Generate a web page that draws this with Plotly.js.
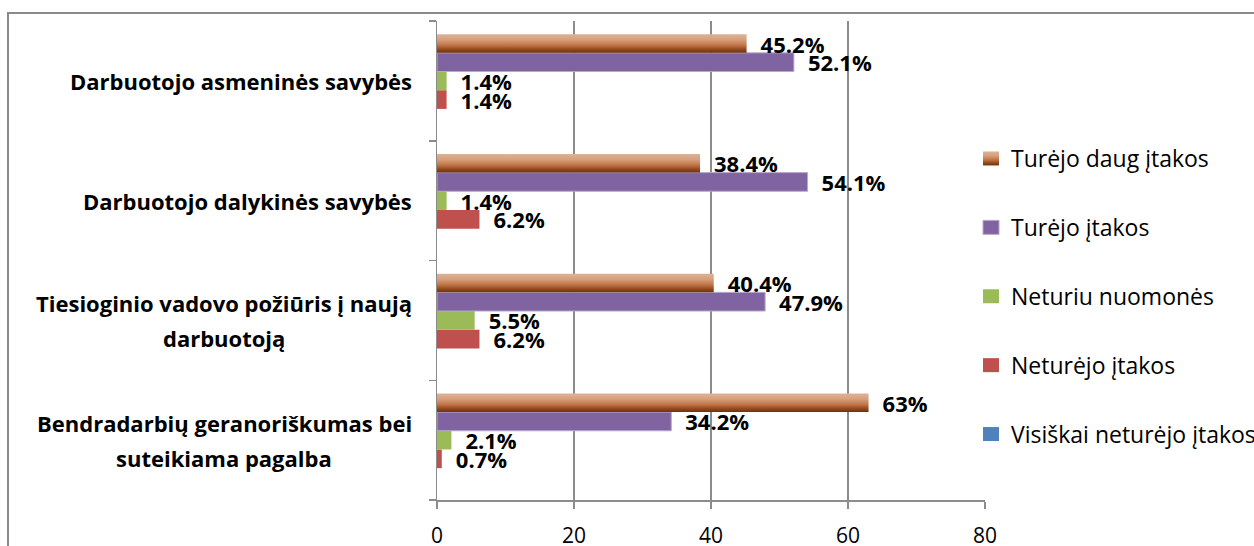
<!DOCTYPE html>
<html>
<head>
<meta charset="utf-8">
<script src="https://cdn.plot.ly/plotly-3.0.1.min.js"></script>
<style>
  html, body { margin: 0; padding: 0; background: #fff; overflow: hidden; }
  #wrap { position: relative; width: 1254px; height: 546px; overflow: hidden; }
  #chart { position: absolute; left: 0; top: 0; width: 1254px; height: 546px; }
  #frame { position: absolute; left: 7px; top: 12px; width: 1400px; height: 700px;
           border-left: 2px solid #8a8a8a; border-top: 2px solid #8a8a8a; pointer-events: none; }
</style>
</head>
<body>
<div id="wrap">
  <div id="chart"></div>
  <div id="frame"></div>
</div>
<script>
// Categories, listed bottom to top as they appear on the axis
const categories = [
  'Bendradarbių geranoriškumas bei suteikiama pagalba',
  'Tiesioginio vadovo požiūris į naują darbuotoją',
  'Darbuotojo dalykinės savybės',
  'Darbuotojo asmeninės savybės'
];
// Wrapped versions of the category names, one entry per line
const categoryLines = [
  ['Bendradarbių geranoriškumas bei', 'suteikiama pagalba'],
  ['Tiesioginio vadovo požiūris į naują', 'darbuotoją'],
  ['Darbuotojo dalykinės savybės'],
  ['Darbuotojo asmeninės savybės']
];

// Answer shares, % (same category order)
const visiskaiNeturejo = [0, 0, 0, 0];
const neturejo = [0.7, 6.2, 6.2, 1.4];
const neturiuNuomones = [2.1, 5.5, 1.4, 1.4];
const turejo = [34.2, 47.9, 54.1, 52.1];
const turejoDaug = [63, 40.4, 38.4, 45.2];

const seriesNames = [
  'Visiškai neturėjo įtakos',
  'Neturėjo įtakos',
  'Neturiu nuomonės',
  'Turėjo įtakos',
  'Turėjo daug įtakos'
];
const seriesValues = [visiskaiNeturejo, neturejo, neturiuNuomones, turejo, turejoDaug];
const seriesColors = ['#4f81bd', '#c0504d', '#9bbb59', '#8064a2', '#b86a3c'];

const xTicks = [0, 20, 40, 60, 80];

const FAMILY = '"Open Sans", "DejaVu Sans", sans-serif';
const valueFont = { family: FAMILY, size: 22, color: '#000', weight: 700 };
const catFont = { family: FAMILY, size: 22, color: '#000', weight: 700 };
const axisGrey = '#8c8c8c';

const traces = seriesValues.map((vals, i) => {
  const hasLabels = vals.some(v => v !== 0);
  return {
    type: 'bar',
    orientation: 'h',
    name: seriesNames[i],
    legendgroup: 'g' + i,
    legendrank: 100 - i,
    x: vals,
    y: categories,
    marker: {
      color: seriesColors[i],
      line: { width: i === 3 ? 1 : 0, color: '#b7a8cc' }
    },
    texttemplate: hasLabels ? '\u2002%{x}%' : '',
    textposition: hasLabels ? 'outside' : 'none',
    textfont: valueFont,
    constraintext: 'none',
    cliponaxis: false,
    hoverinfo: 'skip'
  };
});

// Category names: each block right-aligned next to the axis, its lines centred in the block
const measureCtx = document.createElement('canvas').getContext('2d');
measureCtx.font = '700 22px "Open Sans"';
const LINE_GAP = 35;
const annotations = [];
categoryLines.forEach((lines, i) => {
  const widths = lines.map(l => measureCtx.measureText(l).width);
  const blockW = Math.max(...widths);
  lines.forEach((line, k) => {
    annotations.push({
      xref: 'paper', yref: 'y',
      x: 0, y: categories[i],
      xanchor: 'right', yanchor: 'middle',
      xshift: -23 - (blockW - widths[k]) / 2,
      yshift: ((lines.length - 1) / 2 - k) * LINE_GAP,
      text: line,
      showarrow: false,
      font: catFont
    });
  });
});

const layout = {
  width: 1254,
  height: 546,
  margin: { l: 437, r: 269, t: 21, b: 46, autoexpand: false },
  paper_bgcolor: 'rgba(0,0,0,0)',
  plot_bgcolor: 'rgba(0,0,0,0)',
  barmode: 'group',
  bargap: 0.22,
  bargroupgap: 0,
  font: { family: FAMILY, color: '#000' },
  xaxis: {
    range: [0, 80],
    tickvals: xTicks,
    ticktext: xTicks.map(String),
    showgrid: true,
    gridcolor: axisGrey,
    gridwidth: 1.5,
    zeroline: false,
    showline: true,
    linecolor: axisGrey,
    linewidth: 1.5,
    ticks: 'outside',
    ticklen: 7,
    tickwidth: 1.5,
    tickcolor: axisGrey,
    ticklabelstandoff: 9,
    tickfont: { family: FAMILY, size: 21, color: '#000' },
    fixedrange: true
  },
  yaxis: {
    type: 'category',
    categoryorder: 'array',
    categoryarray: categories,
    range: [-0.5, 3.5],
    showgrid: false,
    zeroline: false,
    showline: true,
    linecolor: axisGrey,
    linewidth: 1.5,
    ticks: 'outside',
    tickson: 'boundaries',
    ticklen: 7,
    tickwidth: 1.5,
    tickcolor: axisGrey,
    showticklabels: false,
    fixedrange: true
  },
  legend: {
    traceorder: 'grouped',
    tracegroupgap: 36,
    xref: 'container', yref: 'container',
    x: 971 / 1254, xanchor: 'left',
    y: 1 - 137 / 546, yanchor: 'top',
    maxheight: 420,
    bgcolor: 'rgba(0,0,0,0)',
    borderwidth: 0,
    font: { family: FAMILY, size: 23, color: '#000' },
    itemclick: false,
    itemdoubleclick: false
  },
  annotations: annotations,
  showlegend: true
};

const gd = document.getElementById('chart');
Plotly.newPlot(gd, traces, layout, { displayModeBar: false, staticPlot: true }).then(() => {
  // Shaded fill for the "Turėjo daug įtakos" bars and legend swatch
  const svgNS = 'http://www.w3.org/2000/svg';
  const defs = gd.querySelector('svg.main-svg defs');
  const grad = document.createElementNS(svgNS, 'linearGradient');
  grad.setAttribute('id', 'brownShade');
  grad.setAttribute('x1', '0'); grad.setAttribute('y1', '0');
  grad.setAttribute('x2', '0'); grad.setAttribute('y2', '1');
  [[0, '#deb397'], [0.3, '#d79f7b'], [0.6, '#c07446'], [0.82, '#94491c'], [1, '#6e300e']].forEach(([o, c]) => {
    const s = document.createElementNS(svgNS, 'stop');
    s.setAttribute('offset', o);
    s.setAttribute('stop-color', c);
    grad.appendChild(s);
  });
  defs.appendChild(grad);

  const barTraces = gd.querySelectorAll('.barlayer .trace');
  const brown = barTraces[barTraces.length - 1];
  brown.querySelectorAll('path').forEach(p => { p.style.fill = 'url(#brownShade)'; });

  gd.querySelectorAll('.legend .traces').forEach(t => {
    const txt = t.querySelector('.legendtext');
    const sym = t.querySelector('.legendpoints path');
    if (!sym) return;
    sym.setAttribute('d', 'M8,7H-8V-7H8Z');
    if (txt && txt.textContent === 'Turėjo daug įtakos') sym.style.fill = 'url(#brownShade)';
  });
});
</script>
</body>
</html>
